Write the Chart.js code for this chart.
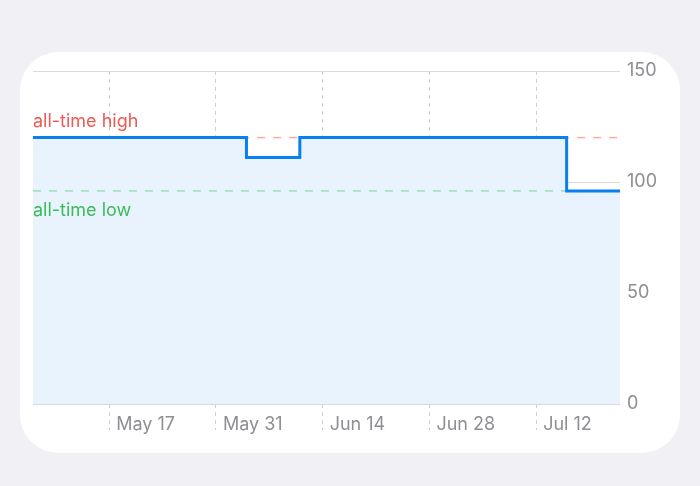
<!DOCTYPE html>
<html>
<head>
  <meta charset="UTF-8">
  <title>Price history</title>
  <script src="https://cdn.jsdelivr.net/npm/chart.js"></script>
  <style>
    html, body { margin: 0; padding: 0; background: #f0f0f5; }
    body { width: 700px; height: 486px; position: relative; overflow: hidden; }
    .card { position: absolute; left: 20px; top: 52px; width: 660px; height: 401px; background: #fff; border-radius: 38px; }
    #grafico { position: absolute; left: 0; top: 0; }
  </style>
</head>
<body>
  <div class="card"></div>
  <canvas id="grafico" width="700" height="486"></canvas>

  <script>
    // days counted from May 7
    const tickDays = [10, 24, 38, 52, 66];
    const tickLabels = ['May 17', 'May 31', 'Jun 14', 'Jun 28', 'Jul 12'];
    const firstDay = 0;
    const lastDay = 77;

    // price changes: value holds from that day on
    const changeDays = [0, 28, 35, 70, 77];
    const prices = [120, 111, 120, 96, 96];

    const allTimeHigh = 120;
    const allTimeLow = 96;
    const yTicks = [0, 50, 100, 150];

    const fuente = 'Inter, "Noto Sans", sans-serif';

    const etiquetas = {
      id: 'etiquetas',
      afterDatasetsDraw(chart) {
        const ctx = chart.ctx;
        const y = chart.scales.y;
        const left = chart.chartArea.left;
        ctx.save();
        ctx.font = '18px ' + fuente;
        ctx.textAlign = 'left';
        ctx.textBaseline = 'alphabetic';
        ctx.fillStyle = '#ee5a55';
        ctx.fillText('all-time high', left, y.getPixelForValue(allTimeHigh) - 11);
        ctx.fillStyle = '#3dbb5a';
        ctx.fillText('all-time low', left, y.getPixelForValue(allTimeLow) + 25);
        ctx.restore();
      }
    };

    const linea = (valor) => [
      { x: firstDay, y: valor },
      { x: lastDay, y: valor }
    ];

    new Chart(document.getElementById('grafico'), {
      type: 'line',
      data: {
        datasets: [
          {
            data: changeDays.map((d, i) => ({ x: d, y: prices[i] })),
            borderColor: '#0a7ff2',
            borderWidth: 3,
            backgroundColor: '#e9f3fe',
            fill: 'origin',
            stepped: 'before',
            pointRadius: 0,
            order: 0
          },
          {
            data: linea(allTimeHigh),
            borderColor: 'rgba(255, 59, 48, 0.45)',
            borderWidth: 1.5,
            borderDash: [8, 8],
            fill: false,
            pointRadius: 0,
            order: 1
          },
          {
            data: linea(allTimeLow),
            borderColor: 'rgba(52, 199, 89, 0.45)',
            borderWidth: 1.5,
            borderDash: [8, 8],
            fill: false,
            pointRadius: 0,
            order: 1
          }
        ]
      },
      options: {
        responsive: false,
        animation: false,
        layout: { padding: { left: 33, top: 71, right: 20, bottom: 33 } },
        plugins: {
          legend: { display: false },
          tooltip: { enabled: false },
          filler: { drawTime: 'beforeDatasetsDraw' }
        },
        scales: {
          x: {
            type: 'linear',
            min: firstDay,
            max: lastDay,
            afterBuildTicks: (scale) => { scale.ticks = tickDays.map(v => ({ value: v })); },
            afterFit: (scale) => { scale.height = 49; },
            border: { display: false, dash: [4, 4] },
            grid: {
              color: '#cdcdd2',
              tickBorderDash: [4, 4],
              tickLength: 26,
              lineWidth: 1
            },
            ticks: {
              autoSkip: false,
              maxRotation: 0,
              align: 'start',
              labelOffset: 7,
              padding: -16,
              color: '#8e8e93',
              font: { family: fuente, size: 18 },
              callback: (v) => tickLabels[tickDays.indexOf(v)]
            }
          },
          y: {
            position: 'right',
            min: 0,
            max: 150,
            afterBuildTicks: (scale) => { scale.ticks = yTicks.map(v => ({ value: v })); },
            afterFit: (scale) => { scale.width = 60; },
            border: { display: false },
            grid: { color: '#dadade', lineWidth: 1, drawTicks: false },
            ticks: {
              padding: 7,
              color: '#8e8e93',
              font: { family: fuente, size: 18 }
            }
          }
        }
      },
      plugins: [etiquetas]
    });
  </script>
</body>
</html>
